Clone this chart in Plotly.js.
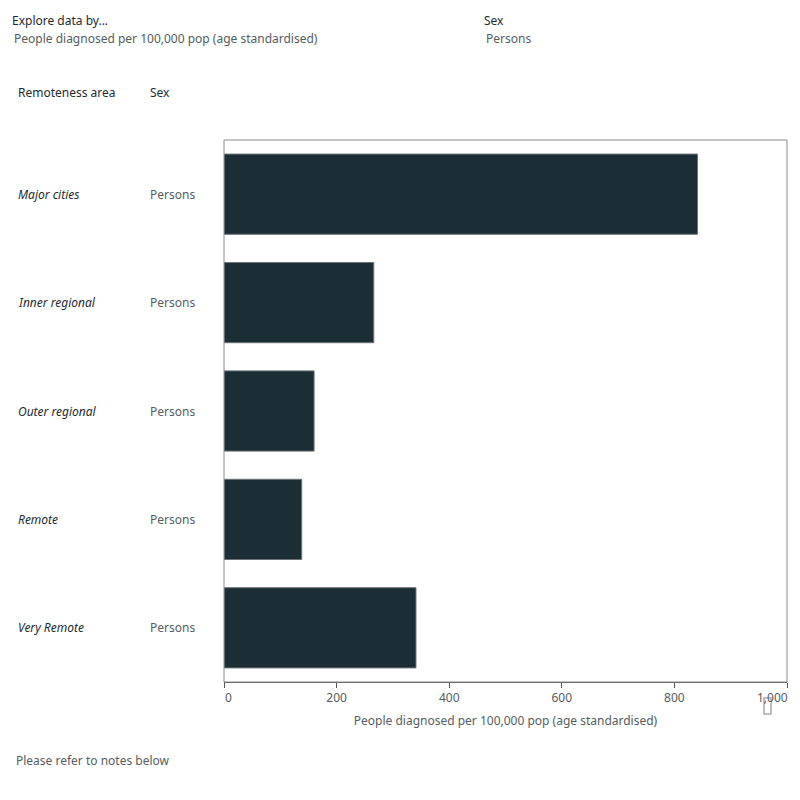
<!DOCTYPE html>
<html>
<head>
<meta charset="utf-8">
<script src="https://cdn.plot.ly/plotly-3.0.1.min.js"></script>
<style>html,body{margin:0;padding:0;background:#fff;}#chart{width:800px;height:800px;}</style>
</head>
<body>
<div id="chart"></div>
<script>
const categories = ["Major cities", "Inner regional", "Outer regional", "Remote", "Very Remote"];
const sexLabels = ["Persons", "Persons", "Persons", "Persons", "Persons"];
const values = [841, 266, 160, 138, 341];
const tickVals = [0, 200, 400, 600, 800, 1000];
const tickText = ["0", "200", "400", "600", "800", "1,000"];
const measureName = "People diagnosed per 100,000 pop (age standardised)";

const FONT = "Noto Sans, Open Sans, sans-serif";
const dark = "#1e2a30";
const grey = "#555c61";

const PL = 224, PR = 787, PT = 140, PB = 682;
const pxToPaperX = px => (px - PL) / (PR - PL);
const pxToPaperY = py => (PB - py) / (PB - PT);

const trace = {
  type: "bar",
  orientation: "h",
  x: values,
  y: categories,
  marker: {color: "#1b2e35", line: {color: "#6b7378", width: 1}},
  hoverinfo: "x+y"
};

const annotations = [];
categories.forEach((c, i) => {
  annotations.push({xref: "paper", yref: "y", x: pxToPaperX(16), y: c, text: "<i>" + c + "</i>",
    showarrow: false, xanchor: "left", font: {family: FONT, size: 12, color: dark}});
  annotations.push({xref: "paper", yref: "y", x: pxToPaperX(148), y: c, text: sexLabels[i],
    showarrow: false, xanchor: "left", font: {family: FONT, size: 12, color: grey}});
});
function label(px, py, text, color, anchor) {
  annotations.push({xref: "paper", yref: "paper", x: pxToPaperX(px), y: pxToPaperY(py), text: text,
    showarrow: false, xanchor: anchor || "left", yanchor: "middle", font: {family: FONT, size: 12, color: color}});
}
label(10, 21, "Explore data by...", dark);
label(12, 39, measureName, grey);
label(482, 21, "Sex", dark);
label(484, 39, "Persons", grey);
label(16, 93, "Remoteness area", dark);
label(148, 93, "Sex", dark);
label(14, 760, "Please refer to notes below", grey);
// end tick labels are kept inside the plot edges (as in the reference)
annotations.push({xref: "x", yref: "paper", x: tickVals[0], y: pxToPaperY(697), text: tickText[0],
  showarrow: false, xanchor: "left", yanchor: "middle", xshift: -1, font: {family: FONT, size: 12, color: grey}});
annotations.push({xref: "x", yref: "paper", x: tickVals[tickVals.length - 1], y: pxToPaperY(697), text: tickText[tickText.length - 1],
  showarrow: false, xanchor: "right", yanchor: "middle", xshift: 3, font: {family: FONT, size: 12, color: grey}});
const axisText = tickText.map((t, i) => (i === 0 || i === tickText.length - 1) ? " " : t);

const layout = {
  width: 800, height: 800,
  margin: {l: PL, r: 800 - PR, t: PT, b: 800 - PB},
  paper_bgcolor: "#fff", plot_bgcolor: "#fff",
  showlegend: false,
  bargap: 0.26,
  font: {family: FONT, size: 12, color: grey},
  xaxis: {
    range: [0, 1000], tickvals: tickVals, ticktext: axisText,
    ticks: "outside", ticklen: 5, tickcolor: "#555", showgrid: false, zeroline: false,
    showline: true, linecolor: "#555", linewidth: 1, mirror: false,
    tickfont: {family: FONT, size: 12, color: grey},
    title: {text: measureName, font: {family: FONT, size: 12, color: grey}, standoff: 11},
    fixedrange: true
  },
  yaxis: {
    type: "category", autorange: "reversed", showticklabels: false, ticks: "",
    showgrid: false, zeroline: false, showline: false, fixedrange: true
  },
  shapes: [
    {type: "rect", xref: "paper", yref: "paper", x0: 0, x1: 1, y0: 0, y1: 1,
     line: {color: "#8a8a8a", width: 1}, fillcolor: "rgba(0,0,0,0)", layer: "above"},
    {type: "rect", xref: "paper", yref: "paper", x0: pxToPaperX(764), x1: pxToPaperX(771), y0: pxToPaperY(698), y1: pxToPaperY(714),
     line: {color: "#aaaaaa", width: 1.5}, fillcolor: "rgba(0,0,0,0)"}
  ],
  annotations: annotations
};

Plotly.newPlot("chart", [trace], layout, {displayModeBar: false, staticPlot: true});
</script>
</body>
</html>
